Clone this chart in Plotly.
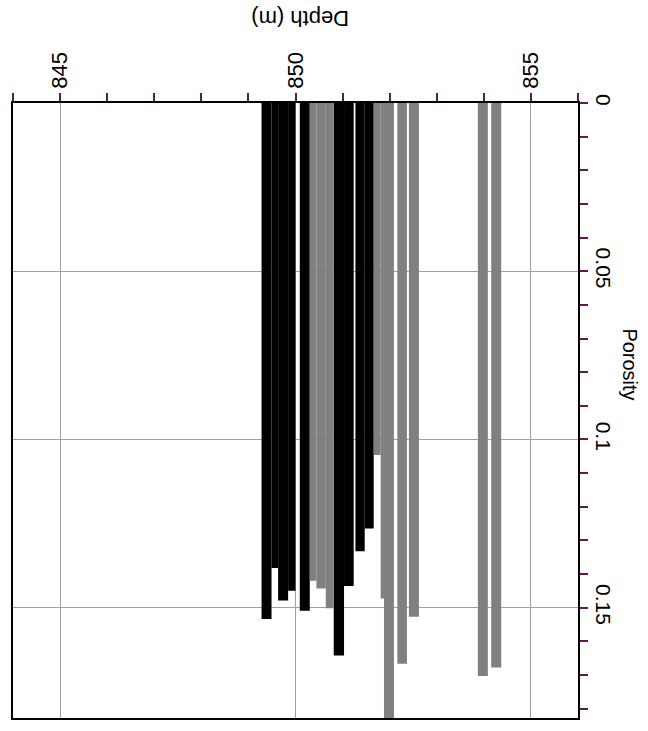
import plotly.graph_objects as go

# Porosity log intervals: top/base depth (m), porosity, lithology group
depth_top = [849.279, 849.491, 849.631, 849.843, 850.091, 850.303, 850.445, 850.643,
             850.812, 851.031, 851.272, 851.470, 851.661, 851.809, 851.879, 852.163,
             852.409, 853.873, 854.157]
depth_base = [849.491, 849.631, 849.843, 850.000, 850.303, 850.445, 850.643, 850.812,
              851.031, 851.236, 851.470, 851.661, 851.809, 851.879, 852.091, 852.367,
              852.621, 854.085, 854.369]
porosity = [0.1534, 0.1382, 0.1479, 0.1450, 0.1509, 0.1420, 0.1443, 0.1502,
            0.1642, 0.1436, 0.1332, 0.1265, 0.1046, 0.1473, 0.1828, 0.1667,
            0.1527, 0.1703, 0.1678]
group = ["A", "A", "A", "A", "A", "B", "B", "B",
         "A", "A", "A", "A", "B", "B", "B", "B",
         "B", "B", "B"]

depth_ticks = [845, 850, 855]
porosity_ticks = [0, 0.05, 0.1, 0.15]

group_colors = {"A": "#000000", "B": "#808080"}
tick_color = "#5c1a5c"
family = "Liberation Sans, Arial, sans-serif"
x_tick_font = dict(family=family, size=22, color="#000000")
y_tick_font = dict(family=family, size=21, color="#000000")

fig = go.Figure()
for g, col in group_colors.items():
    idx = [i for i, v in enumerate(group) if v == g]
    fig.add_trace(go.Bar(
        x=[(depth_top[i] + depth_base[i]) / 2 for i in idx],
        y=[porosity[i] for i in idx],
        width=[depth_base[i] - depth_top[i] for i in idx],
        marker=dict(color=col, line=dict(width=0)),
        showlegend=False,
        name=g,
    ))

fig.update_layout(
    width=648, height=731,
    margin=dict(l=12, r=70, t=103, b=11),
    paper_bgcolor="white", plot_bgcolor="white",
    barmode="overlay",
    font=y_tick_font,
    xaxis=dict(
        range=[844, 856], side="top",
        tickvals=depth_ticks, ticktext=[str(v) for v in depth_ticks],
        tickangle=-90, ticks="outside", ticklen=8, tickcolor=tick_color, tickwidth=1.5,
        tickfont=x_tick_font,
        minor=dict(dtick=1, ticks="outside", ticklen=8, tickcolor=tick_color, tickwidth=1.5, showgrid=False),
        showgrid=True, gridcolor="#a0a0a0", gridwidth=1,
        showline=True, linecolor="#000000", linewidth=1.5, mirror=True,
        zeroline=False,
    ),
    yaxis=dict(
        range=[0.1828, 0], side="right",
        tickvals=porosity_ticks, ticktext=["0", "0.05", "0.1", "0.15"],
        tickangle=90, ticks="outside", ticklen=8, tickcolor=tick_color, tickwidth=1.5,
        tickfont=y_tick_font,
        minor=dict(dtick=0.01, ticks="outside", ticklen=8, tickcolor=tick_color, tickwidth=1.5, showgrid=False),
        showgrid=True, gridcolor="#a0a0a0", gridwidth=1,
        showline=True, linecolor="#000000", linewidth=1.5, mirror=True,
        zeroline=False,
    ),
    annotations=[
        dict(text="Depth (m)", xref="paper", yref="paper", x=0.508, y=1,
             xanchor="center", yanchor="middle", yshift=84,
             showarrow=False, textangle=180,
             font=dict(family=family, size=22, color="#000000")),
        dict(text="Porosity", xref="paper", yref="paper", x=1, y=0.575,
             xanchor="center", yanchor="middle", xshift=52,
             showarrow=False, textangle=90,
             font=dict(family=family, size=20, color="#000000")),
    ],
)

fig.write_html("out.html")
